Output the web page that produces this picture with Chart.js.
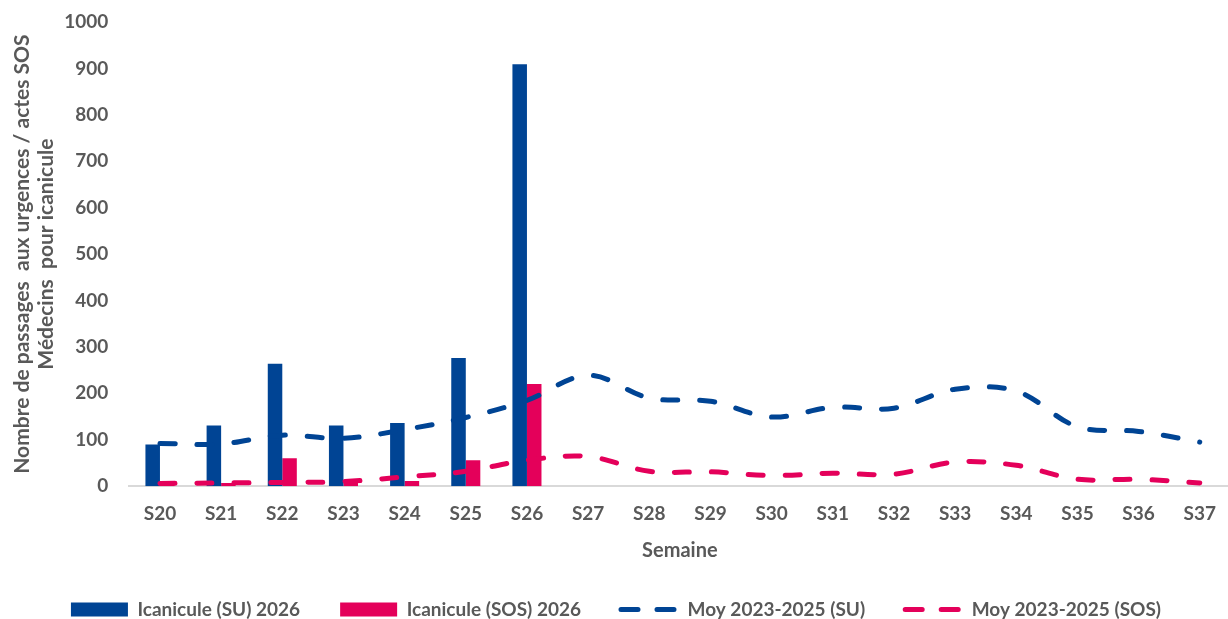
<!DOCTYPE html>
<html>
<head>
<meta charset="utf-8">
<script src="https://cdn.jsdelivr.net/npm/chart.js@4"></script>
<style>
  html, body { margin: 0; padding: 0; background: #fff; overflow: hidden; }
  #wrap { width: 1232px; height: 619px; }
</style>
</head>
<body>
<div id="wrap"><canvas id="chart" width="1232" height="619"></canvas></div>
<script>
// weeks on the x axis
const semaines = ['S20', 'S21', 'S22', 'S23', 'S24', 'S25', 'S26', 'S27', 'S28', 'S29',
  'S30', 'S31', 'S32', 'S33', 'S34', 'S35', 'S36', 'S37'];

// 2026 counts (bars), only up to S26
const icaniculeSU2026 = [90, 131, 264, 131, 136, 276, 909, null, null, null, null, null, null, null, null, null, null, null];
const icaniculeSOS2026 = [4, 7, 60, 11, 11, 56, 220, null, null, null, null, null, null, null, null, null, null, null];

// 2023-2025 average (dashed lines)
const moySU = [92, 91, 110, 103, 122, 148, 185, 239, 190, 183, 149, 170, 168, 209, 205, 128, 118, 95];
const moySOS = [6, 7, 8, 10, 20, 32, 56, 64, 32, 31, 23, 28, 26, 52, 45, 15, 15, 7];

const yTicks = [0, 100, 200, 300, 400, 500, 600, 700, 800, 900, 1000];

const BLUE = '#004494';
const RED = '#E4005A';
const GREY = '#595959';
const FONT = 'Lato';

const ctx = document.getElementById('chart');

new Chart(ctx, {
    type: 'bar',
    data: {
        labels: semaines,
        datasets: [
            { type: 'bar', label: 'Icanicule (SU) 2026', data: icaniculeSU2026, backgroundColor: BLUE, borderWidth: 0, order: 1 },
            { type: 'bar', label: 'Icanicule (SOS) 2026', data: icaniculeSOS2026, backgroundColor: RED, borderWidth: 0, order: 1 },
            {
                type: 'line', label: 'Moy 2023-2025 (SU)', data: moySU,
                borderColor: BLUE, backgroundColor: BLUE, borderWidth: 5,
                borderDash: [15, 22], borderCapStyle: 'round', tension: 0.35,
                pointRadius: 0, fill: false, order: 0
            },
            {
                type: 'line', label: 'Moy 2023-2025 (SOS)', data: moySOS,
                borderColor: RED, backgroundColor: RED, borderWidth: 5,
                borderDash: [15, 22], borderCapStyle: 'round', tension: 0.35,
                pointRadius: 0, fill: false, order: 0
            }
        ]
    },
    options: {
        responsive: false,
        animation: false,
        layout: { padding: { top: 22, bottom: -10, left: 0, right: 0 } },
        datasets: {
            bar: { categoryPercentage: 0.475, barPercentage: 1 }
        },
        plugins: {
            tooltip: { enabled: false },
            legend: {
                position: 'bottom',
                labels: {
                    usePointStyle: true,
                    pointStyleWidth: 57,
                    boxHeight: 14,
                    padding: 40,
                    color: GREY,
                    font: { family: FONT, size: 19, weight: 'bold' },
                    // build the legend by hand so the dashed lines keep their dash
                    generateLabels: (chart) => chart.data.datasets.map((ds, i) => ({
                        text: ds.label,
                        datasetIndex: i,
                        fillStyle: ds.backgroundColor,
                        strokeStyle: ds.type === 'line' ? ds.borderColor : ds.backgroundColor,
                        lineWidth: ds.type === 'line' ? 5 : 0,
                        lineDash: ds.type === 'line' ? [17, 19] : [],
                        lineCap: 'round',
                        pointStyle: ds.type === 'line' ? 'line' : 'rect',
                        fontColor: GREY,
                        hidden: false
                    }))
                }
            }
        },
        scales: {
            x: {
                grid: { display: false, drawTicks: false },
                border: { display: true, color: '#D9D9D9', width: 2 },
                ticks: { color: GREY, padding: 16, font: { family: FONT, size: 19, weight: 'bold' } },
                title: {
                    display: true, text: 'Semaine', color: GREY,
                    font: { family: FONT, size: 20, weight: 'bold' },
                    padding: { top: -2, bottom: -3 }
                }
            },
            y: {
                min: 0,
                max: 1000,
                afterBuildTicks: (axis) => { axis.ticks = yTicks.map(v => ({ value: v })); },
                // tighten the axis box so the plot starts where the reference does
                afterFit: (axis) => {
                    axis.paddingTop = 0;
                    axis.paddingBottom = 0;
                    axis.width -= 15;
                },
                grid: { display: false, drawTicks: false },
                border: { display: false },
                ticks: {
                    color: GREY, padding: 21,
                    font: { family: FONT, size: 19, weight: 'bold' },
                    callback: (v) => String(v)
                },
                title: {
                    display: true,
                    text: ['Nombre de passages  aux urgences / actes SOS', 'Médecins  pour icanicule'],
                    color: GREY,
                    font: { family: FONT, size: 21, weight: 'bold', lineHeight: 1.15 },
                    padding: { top: 10, bottom: 0 }
                }
            }
        }
    }
});
</script>
</body>
</html>
